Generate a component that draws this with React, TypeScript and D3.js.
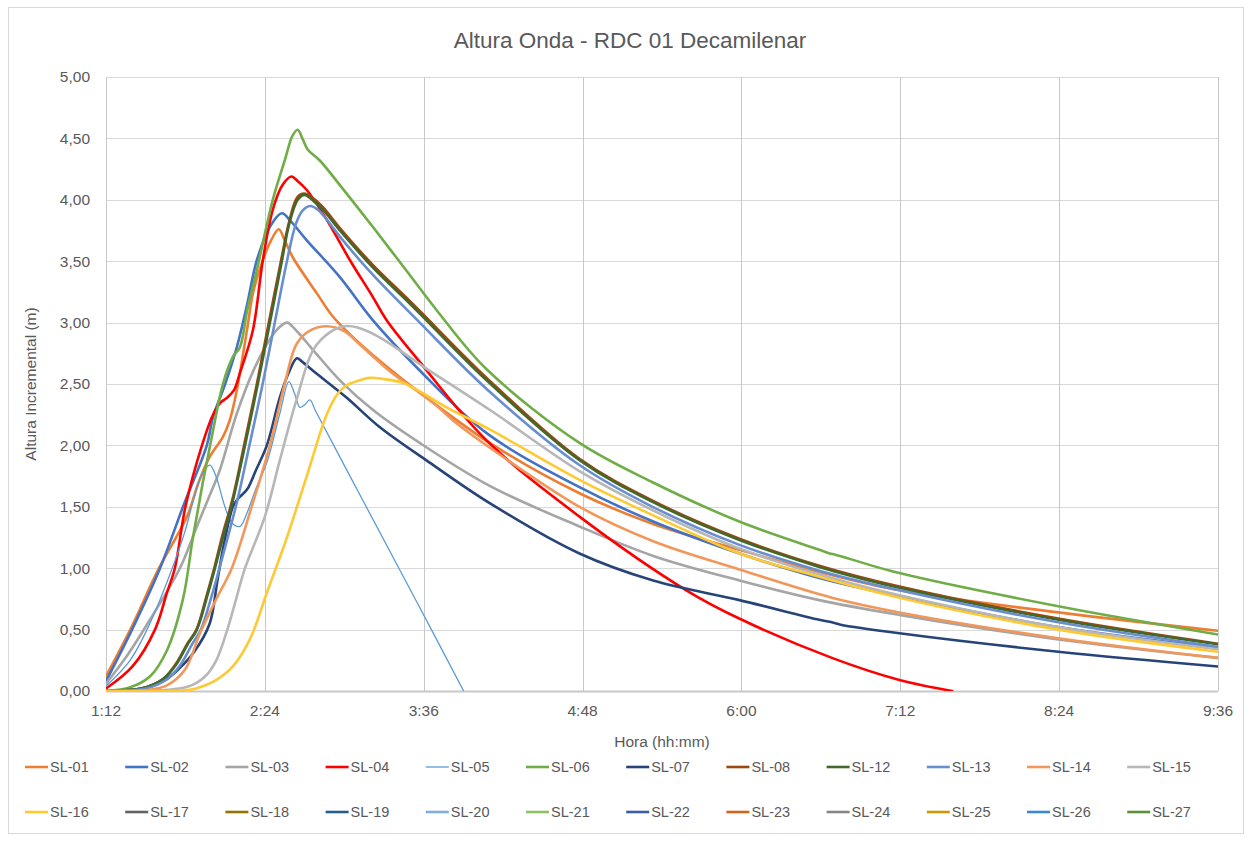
import React from "react";
import * as d3 from "d3";

type Pt = [number, number];

// time in minutes since 0:00, value in metres
const sl01: Pt[] = [[72,0.12],[83,0.5],[96,1.0],[108.7,1.42],[114,1.7],[119.1,1.91],[125,2.07],[128,2.2],[131.3,2.45],[135.9,2.94],[138.6,3.24],[142,3.45],[146.3,3.65],[150.3,3.76],[153,3.67],[156.7,3.53],[167.5,3.24],[174.8,3.05],[187,2.83],[200,2.63],[214.2,2.43],[245.9,2.02],[286.6,1.61],[320,1.36],[359,1.15],[395.3,0.97],[431.6,0.82],[503.6,0.64],[576,0.49]];
const sl02: Pt[] = [[72,0.08],[83.8,0.5],[96.5,1.0],[106.9,1.5],[117.7,2.0],[120.5,2.23],[126,2.5],[131.3,2.8],[136,3.15],[140.4,3.51],[146.3,3.78],[151.7,3.89],[156,3.82],[163,3.67],[178,3.37],[192.9,3.02],[214.2,2.61],[244.5,2.1],[286.6,1.66],[320,1.38],[359.1,1.12],[395.3,0.92],[431.6,0.77],[503.6,0.52],[576,0.35]];
const sl03: Pt[] = [[72,0.06],[82,0.3],[91.9,0.58],[105.5,1.0],[113.2,1.34],[118,1.55],[123.6,1.8],[131.3,2.26],[140.4,2.67],[149.4,2.94],[154,3.0],[158,2.94],[165.7,2.78],[178,2.53],[192.9,2.29],[214.2,2.02],[245.9,1.67],[286.6,1.34],[320,1.1],[359.1,0.9],[395.3,0.74],[431.6,0.62],[503.6,0.42],[576,0.27]];
const sl04: Pt[] = [[72,0.02],[84,0.2],[94.2,0.5],[99.6,0.8],[103.2,1.0],[108,1.5],[115.5,2.0],[120.5,2.25],[124,2.35],[127,2.39],[130,2.45],[132.7,2.59],[138.6,2.94],[143.1,3.51],[147.6,3.92],[152,4.12],[156,4.19],[159,4.15],[163,4.08],[172,3.84],[182.5,3.51],[192.9,3.21],[199.2,3.02],[214.2,2.68],[244.5,2.04],[286.6,1.42],[335,0.82],[359,0.59],[401,0.27],[431.6,0.09],[455.6,0]];
const sl05: Pt[] = [[72,0.04],[82.9,0.25],[91.9,0.55],[101,0.95],[107.8,1.3],[112.3,1.6],[115.9,1.78],[119.1,1.84],[121.8,1.75],[125.9,1.5],[129,1.37],[132.7,1.34],[135.9,1.45],[140,1.65],[144.9,1.86],[150.8,2.26],[154.9,2.52],[157.5,2.42],[159.9,2.31],[162,2.33],[164.4,2.37],[167,2.28],[187,1.6],[214.2,0.68],[234.1,0]];
const sl06: Pt[] = [[72,0],[83,0.03],[92,0.12],[99.6,0.33],[106.9,0.75],[111.4,1.25],[115.9,1.7],[120.5,2.12],[125,2.5],[129.5,2.72],[132.7,2.8],[136,3.1],[140.4,3.43],[147.6,4.0],[153,4.32],[156.5,4.52],[158.9,4.57],[161,4.5],[163.4,4.41],[168.9,4.32],[178,4.12],[192.9,3.78],[208.3,3.42],[223.2,3.07],[244.5,2.62],[286.6,2.02],[319.7,1.7],[359,1.38],[395.3,1.15],[400,1.12],[402.6,1.11],[431.6,0.96],[503.6,0.69],[576,0.46]];
const sl07: Pt[] = [[72,0],[88,0.02],[98,0.08],[105,0.18],[112,0.32],[119,0.55],[122.5,0.9],[125.5,1.2],[129.5,1.5],[132,1.57],[135.9,1.64],[140,1.8],[144.9,2.0],[150.8,2.39],[155,2.6],[158.5,2.71],[161,2.68],[165.7,2.61],[181,2.39],[196,2.15],[218.7,1.86],[245.9,1.53],[286.6,1.12],[320,0.9],[359.1,0.74],[395.3,0.58],[401,0.56],[405,0.54],[431.6,0.47],[503.6,0.32],[576,0.2]];
const sl08: Pt[] = [[72,0],[88,0.02],[98,0.1],[104,0.23],[109,0.39],[113,0.5],[117.8,0.79],[121.2,1.01],[124.8,1.27],[129.3,1.56],[134.8,2.02],[140.6,2.52],[146,3.02],[151.5,3.52],[155,3.82],[158.7,4.02],[161.8,4.05],[166,4.01],[170.3,3.94],[178,3.77],[192.9,3.47],[208.3,3.2],[215,3.08],[244.5,2.55],[286.6,1.89],[319.7,1.55],[359.1,1.24],[395.3,1.02],[431.6,0.85],[503.6,0.59],[576,0.385]];
const sl12: Pt[] = [[72,0],[88,0.02],[98,0.1],[104,0.22],[109,0.38],[113.2,0.5],[118,0.78],[121.4,1.0],[125,1.25],[129.5,1.55],[135,2.0],[140.8,2.5],[146.3,3.0],[151.7,3.5],[155,3.8],[158.9,4.0],[162,4.04],[166,3.99],[170.3,3.92],[178,3.75],[192.9,3.45],[208.3,3.18],[215,3.06],[244.5,2.53],[286.6,1.88],[319.7,1.54],[359.1,1.23],[395.3,1.01],[401,0.98],[431.6,0.84],[503.6,0.58],[576,0.38]];
const sl13: Pt[] = [[72,0],[90,0.02],[100,0.1],[106,0.22],[111,0.38],[115,0.5],[120,0.78],[123.4,1.0],[131.5,1.55],[137,2.0],[143,2.5],[148.5,3.0],[154,3.5],[158,3.8],[161,3.91],[164.5,3.95],[168,3.92],[172,3.84],[178,3.7],[192.9,3.39],[214.2,3.0],[244.5,2.46],[286.6,1.84],[319.7,1.5],[359.1,1.19],[395.3,0.98],[431.6,0.82],[503.6,0.56],[576,0.36]];
const sl14: Pt[] = [[72,0],[92,0.01],[100,0.05],[108,0.18],[114.6,0.47],[122,0.75],[129,1.0],[138,1.5],[146.3,2.0],[153,2.5],[158.5,2.83],[165,2.94],[172,2.97],[180,2.93],[186.5,2.83],[201.6,2.59],[218.7,2.37],[231.6,2.17],[244.5,2.0],[286.6,1.5],[320,1.22],[359.1,0.99],[401,0.76],[431.6,0.64],[503.6,0.43],[576,0.27]];
const sl15: Pt[] = [[72,0],[100,0.01],[110,0.04],[117,0.12],[122,0.25],[127,0.5],[131,0.75],[135,1.0],[144,1.42],[150.8,1.88],[158.5,2.38],[166,2.78],[173.4,2.92],[180,2.97],[186,2.96],[196,2.88],[216,2.64],[245.9,2.29],[286.6,1.79],[320,1.47],[359.1,1.16],[401,0.92],[431.6,0.78],[503.6,0.52],[576,0.34]];
const sl16: Pt[] = [[72,0],[100,0],[110,0.01],[114.6,0.03],[122,0.09],[129.5,0.2],[137.2,0.42],[144.9,0.8],[154,1.25],[163,1.75],[172,2.25],[177,2.42],[181.1,2.49],[187,2.53],[191.5,2.55],[198,2.54],[206.5,2.51],[214.2,2.44],[226.4,2.31],[245.9,2.13],[286.6,1.72],[320,1.43],[359.1,1.12],[395.3,0.93],[431.6,0.76],[503.6,0.5],[576,0.32]];
const sl17: Pt[] = [];
const sl18: Pt[] = [];
const sl19: Pt[] = [];
const sl20: Pt[] = [];
const sl21: Pt[] = [];
const sl22: Pt[] = [];
const sl23: Pt[] = [];
const sl24: Pt[] = [];
const sl25: Pt[] = [];
const sl26: Pt[] = [];
const sl27: Pt[] = [];

const seriesNames = ["SL-01","SL-02","SL-03","SL-04","SL-05","SL-06","SL-07","SL-08","SL-12","SL-13","SL-14","SL-15","SL-16","SL-17","SL-18","SL-19","SL-20","SL-21","SL-22","SL-23","SL-24","SL-25","SL-26","SL-27"];
const seriesData = [sl01,sl02,sl03,sl04,sl05,sl06,sl07,sl08,sl12,sl13,sl14,sl15,sl16,sl17,sl18,sl19,sl20,sl21,sl22,sl23,sl24,sl25,sl26,sl27];
const seriesColors = ["#ED7D31","#4472C4","#A5A5A5","#FF0000","#5B9BD5","#70AD47","#264478","#9E480E","#43682B","#698ED0","#F1975A","#B7B7B7","#FFC933","#636363","#997300","#255E91","#7CAFDD","#8CC168","#3A5DAB","#D3631A","#858585","#CC9A06","#3C88D6","#5C913A"];
const thinSeries = ["SL-05"];

const xTicks = [72,144,216,288,360,432,504,576];
const yTicks = [0,0.5,1,1.5,2,2.5,3,3.5,4,4.5,5];

const FONT = "'Liberation Sans', Arial, sans-serif";

export default function App() {
  const x = d3.scaleLinear().domain([72,576]).range([106,1218]);
  const y = d3.scaleLinear().domain([0,5]).range([691,77]);
  const line = d3.line<Pt>().x(d => x(d[0])).y(d => y(d[1])).curve(d3.curveCatmullRom.alpha(0.5));
  const fmtTime = (m: number) => `${Math.floor(m/60)}:${String(m%60).padStart(2,"0")}`;
  const fmtY = (v: number) => v.toFixed(2).replace(".", ",");
  const pitch = 100.2;

  return (
    <svg width={1252} height={841} style={{position:"absolute", left:0, top:0, background:"#fff"}} fontFamily={FONT}>
      <rect x={0} y={0} width={1252} height={841} fill="#fff"/>
      <rect x={8.5} y={7.5} width={1235} height={826} fill="#fff" stroke="#d9d9d9"/>
      <defs>
        <clipPath id="plotClip"><rect x={106} y={70} width={1112} height={621}/></clipPath>
      </defs>
      <text x={630} y={48} textAnchor="middle" fontSize={22.5} fill="#595959">Altura Onda - RDC 01 Decamilenar</text>
      {yTicks.map(v => (
        <line key={"gy"+v} x1={106} x2={1218} y1={Math.round(y(v))+0.5} y2={Math.round(y(v))+0.5} stroke="#d9d9d9" strokeWidth={1}/>
      ))}
      {xTicks.map(t => (
        <line key={"gx"+t} x1={Math.round(x(t))+0.5} x2={Math.round(x(t))+0.5} y1={77} y2={691} stroke="#c8c8c8" strokeWidth={1}/>
      ))}
      <line x1={106} x2={1218} y1={691.5} y2={691.5} stroke="#c8c8c8" strokeWidth={2}/>
      <line x1={106.5} x2={106.5} y1={77} y2={692} stroke="#c8c8c8" strokeWidth={1}/>
      {yTicks.map(v => (
        <text key={"ty"+v} x={90} y={y(v)} dy="0.35em" textAnchor="end" fontSize={15.5} fill="#595959">{fmtY(v)}</text>
      ))}
      {xTicks.map(t => (
        <text key={"tx"+t} x={x(t)} y={716} textAnchor="middle" fontSize={15.5} fill="#595959">{fmtTime(t)}</text>
      ))}
      <text x={662} y={747} textAnchor="middle" fontSize={15.5} fill="#595959">Hora (hh:mm)</text>
      <text transform={`translate(36,384) rotate(-90)`} textAnchor="middle" fontSize={15.5} fill="#595959">Altura Incremental (m)</text>
      <g clipPath="url(#plotClip)">
        {seriesData.map((d, i) => d.length ? (
          <path key={seriesNames[i]} d={line(d) || ""} fill="none" stroke={seriesColors[i]}
            strokeWidth={thinSeries.includes(seriesNames[i]) ? 1.3 : 2.6} strokeLinejoin="round" strokeLinecap="round"/>
        ) : null)}
      </g>
      {seriesNames.map((n, i) => {
        const row = Math.floor(i / 12);
        const col = i % 12;
        const sx = 25 + col * pitch;
        const sy = row === 0 ? 767 : 812;
        return (
          <g key={"lg"+n}>
            <line x1={sx} x2={sx + 23} y1={sy} y2={sy} stroke={seriesColors[i]} strokeWidth={thinSeries.includes(n) ? 1.3 : 2.6}/>
            <text x={sx + 25} y={sy} dy="0.35em" fontSize={14.5} fill="#595959">{n}</text>
          </g>
        );
      })}
    </svg>
  );
}
